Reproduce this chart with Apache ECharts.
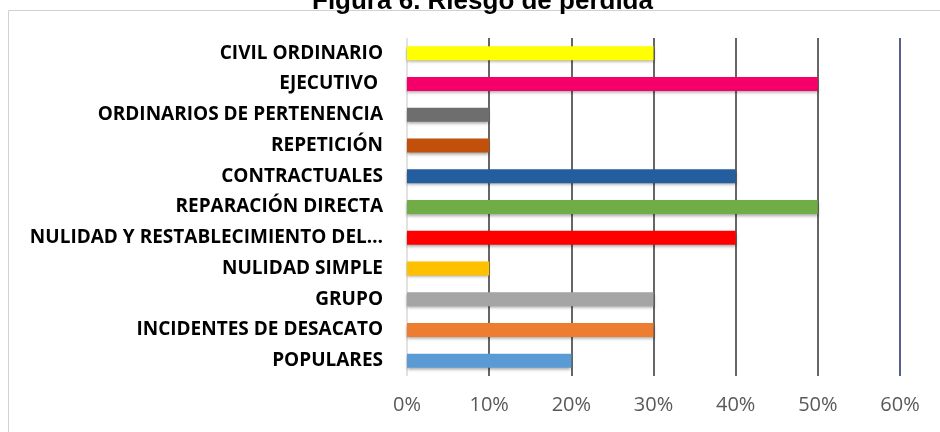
<!DOCTYPE html>
<html>
<head>
<meta charset="utf-8">
<script src="https://cdn.jsdelivr.net/npm/echarts@6/dist/echarts.min.js"></script>
<style>
  html, body { margin: 0; padding: 0; background: #fff; }
  #chart { width: 940px; height: 432px; }
</style>
</head>
<body>
<div id="chart"></div>
<script>
const categories = [
  "CIVIL ORDINARIO",
  "EJECUTIVO ",
  "ORDINARIOS DE PERTENENCIA",
  "REPETICIÓN",
  "CONTRACTUALES",
  "REPARACIÓN DIRECTA",
  "NULIDAD Y RESTABLECIMIENTO DEL…",
  "NULIDAD SIMPLE",
  "GRUPO",
  "INCIDENTES DE DESACATO",
  "POPULARES"
];
const values = [30, 50, 10, 10, 40, 50, 40, 10, 30, 30, 20];
const xTicks = [0, 10, 20, 30, 40, 50, 60];

// bar palette, one per category
const palette = [
  "#ffff00", "#f5006a", "#6e6e6e", "#c0500a", "#255e9e", "#70ad47",
  "#ff0000", "#ffc000", "#a5a5a5", "#ed7d31", "#5b9bd5"
];

const chart = echarts.init(document.getElementById("chart"));

chart.setOption({
  animation: false,
  title: {
    text: "Figura 6. Riesgo de pérdida",
    left: 307,
    top: -16,
    textStyle: { fontFamily: "Liberation Sans", fontWeight: "bold", fontSize: 26, color: "#000" }
  },
  graphic: [{
    type: "rect",
    shape: { x: 8.5, y: 10.5, width: 940, height: 430 },
    style: { fill: "none", stroke: "#d0d0d0", lineWidth: 1 },
    silent: true
  }],
  grid: { left: 407, right: 40, top: 38, bottom: 56 },
  xAxis: {
    type: "value",
    min: xTicks[0],
    max: xTicks[xTicks.length - 1],
    interval: 10,
    axisLine: { show: false },
    axisTick: { show: false },
    axisLabel: {
      formatter: (v) => v + "%",
      color: "#595959",
      fontFamily: "Open Sans",
      fontSize: 20,
      margin: 19
    },
    splitLine: {
      lineStyle: {
        color: ["#d9d9d9", "#333", "#333", "#333", "#333", "#333", "#1f2a6b"],
        width: 1.5
      }
    }
  },
  yAxis: {
    type: "category",
    data: categories,
    inverse: true,
    axisLine: { show: false },
    axisTick: { show: false },
    axisLabel: {
      color: "#000",
      fontFamily: "Open Sans",
      fontWeight: "bold",
      fontSize: 19,
      margin: 24
    }
  },
  series: [{
    type: "bar",
    barWidth: 14,
    data: values.map((v, i) => ({
      value: v,
      itemStyle: {
        color: palette[i],
        shadowColor: "rgba(0,0,0,0.35)",
        shadowBlur: 3,
        shadowOffsetY: 2
      }
    }))
  }]
});
</script>
</body>
</html>
